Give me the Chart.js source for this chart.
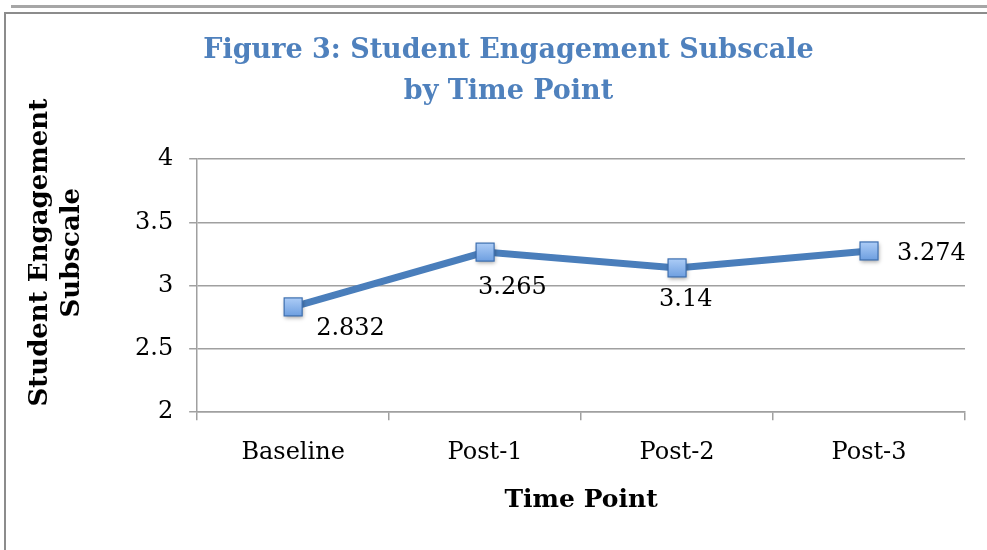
<!DOCTYPE html>
<html>
<head>
<meta charset="utf-8">
<script src="https://cdn.jsdelivr.net/npm/chart.js@4"></script>
<style>
  html, body { margin: 0; padding: 0; background: #fff; }
  #topBar { position: absolute; left: 11px; top: 5px; width: 976px; height: 3px; background: #a6a6a6; }
  #frame { position: absolute; left: 4px; top: 12px; width: 990px; height: 550px; border-left: 2px solid #8c8c8c; border-top: 2px solid #8c8c8c; }
  #wrap { position: absolute; left: 0; top: 0; width: 987px; height: 550px; }
</style>
</head>
<body>
<div id="topBar"></div>
<div id="frame"></div>
<div id="wrap"><canvas id="chart"></canvas></div>
<script>
const timePoints = ["Baseline", "Post-1", "Post-2", "Post-3"];
const engagement = [2.832, 3.265, 3.14, 3.274];
const yTicks = [2, 2.5, 3, 3.5, 4];
const yTitle = ["Student Engagement", "Subscale"];

const serif = "'DejaVu Serif', serif";
const blue = "#4a7ebb";
const gridColor = "#a0a0a0";

// where each value label sits relative to its point (px)
const labelShift = [[23, 22], [-7, 36], [-18, 32], [28, 3]];

const valueLabels = {
  id: "valueLabels",
  afterDatasetsDraw(chart) {
    const ctx = chart.ctx;
    const meta = chart.getDatasetMeta(0);
    ctx.save();
    ctx.font = "24px " + serif;
    ctx.fillStyle = "#000";
    ctx.textAlign = "left";
    ctx.textBaseline = "middle";
    meta.data.forEach((pt, i) => {
      const s = labelShift[i];
      ctx.fillText(String(engagement[i]), pt.x + s[0], pt.y + s[1]);
    });
    ctx.restore();
  }
};

// square markers with a soft shadow and gradient fill
const squareMarkers = {
  id: "squareMarkers",
  afterDatasetsDraw(chart) {
    const ctx = chart.ctx;
    const meta = chart.getDatasetMeta(0);
    const h = 9;
    meta.data.forEach(pt => {
      ctx.save();
      ctx.shadowColor = "rgba(0,0,0,0.35)";
      ctx.shadowBlur = 4;
      ctx.shadowOffsetX = 1;
      ctx.shadowOffsetY = 2;
      const g = ctx.createLinearGradient(0, pt.y - h, 0, pt.y + h);
      g.addColorStop(0, "#acccf6");
      g.addColorStop(1, "#6e9fe0");
      ctx.fillStyle = g;
      ctx.fillRect(pt.x - h, pt.y - h, h * 2, h * 2);
      ctx.restore();
      ctx.save();
      ctx.strokeStyle = "#3d6fb0";
      ctx.lineWidth = 1.2;
      ctx.strokeRect(pt.x - h, pt.y - h, h * 2, h * 2);
      ctx.restore();
    });
  }
};

// rotated two-line y axis title, a bit above the plot centre as in the original
const yAxisTitle = {
  id: "yAxisTitle",
  afterDraw(chart) {
    const ctx = chart.ctx;
    const a = chart.chartArea;
    const cy = (a.top + a.bottom) / 2 - 33;
    ctx.save();
    ctx.font = "bold 26px " + serif;
    ctx.fillStyle = "#000";
    ctx.textAlign = "center";
    ctx.textBaseline = "middle";
    ctx.translate(40, cy);
    ctx.rotate(-Math.PI / 2);
    yTitle.forEach((line, i) => ctx.fillText(line, 0, i * 32));
    ctx.restore();
  }
};

new Chart(document.getElementById("chart"), {
  type: "line",
  data: {
    labels: timePoints,
    datasets: [{
      data: engagement,
      borderColor: blue,
      borderWidth: 7,
      pointRadius: 0,
      tension: 0
    }]
  },
  options: {
    responsive: true,
    maintainAspectRatio: false,
    animation: false,
    layout: { padding: { top: 30, right: 22, bottom: 35, left: 52 } },
    plugins: {
      legend: { display: false },
      tooltip: { enabled: false },
      title: {
        display: true,
        text: ["Figure 3: Student Engagement Subscale", "by Time Point"],
        color: "#4f81bd",
        font: { family: serif, size: 27, weight: "bold", lineHeight: 1.52 },
        padding: { top: 0, bottom: 47 }
      }
    },
    scales: {
      x: {
        offset: true,
        grid: { offset: true, drawOnChartArea: false, color: gridColor, lineWidth: 1.5, tickLength: 8 },
        border: { color: gridColor, width: 1.5 },
        ticks: { color: "#000", font: { family: serif, size: 24 }, padding: 18 },
        title: {
          display: true,
          text: "Time Point",
          color: "#000",
          font: { family: serif, size: 25, weight: "bold" },
          padding: { top: 0, bottom: 0 }
        }
      },
      y: {
        min: 2,
        max: 4,
        afterBuildTicks: axis => { axis.ticks = yTicks.map(v => ({ value: v })); },
        afterFit: axis => { axis.width += 67; },
        grid: { color: gridColor, lineWidth: 1.5, tickLength: 8 },
        border: { color: gridColor, width: 1.5 },
        ticks: { color: "#000", font: { family: serif, size: 24 }, padding: 16, callback: v => String(v) }
      }
    }
  },
  plugins: [squareMarkers, valueLabels, yAxisTitle]
});
</script>
</body>
</html>
